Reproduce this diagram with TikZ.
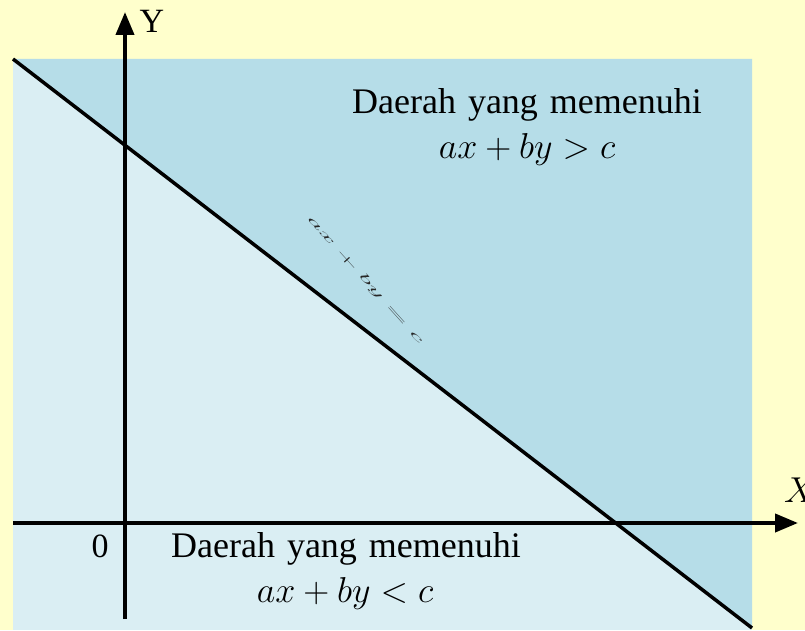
\documentclass[tikz,border=0pt]{standalone}
\usepackage{fix-cm}
\usepackage{fontspec}
\setmainfont{Liberation Serif}
\usetikzlibrary{arrows.meta}
\definecolor{bgyellow}{HTML}{FFFFCC}
\definecolor{upblue}{HTML}{B6DDE8}
\definecolor{lowblue}{HTML}{DAEEF3}
\tikzset{
  axis/.style={line width=4pt,-{Triangle[length=23pt,width=18pt]}},
  bound/.style={line width=3.5pt},
  big/.style={font=\fontsize{36}{40}\selectfont,inner sep=0pt,anchor=base},
}
\begin{document}
\begin{tikzpicture}[x=1pt,y=1pt]
\fill[bgyellow] (0,0) rectangle (805,630);
\useasboundingbox (0,0) rectangle (805,630);
% regions
\coordinate (TL) at (13,571);
\coordinate (TR) at (752,571);
\coordinate (BR) at (752,2);
\coordinate (BL) at (13,0);
\fill[lowblue] (BL) rectangle (TR);
\fill[upblue] (TL) -- (TR) -- (BR) -- cycle;
% boundary line
\draw[bound] (TL) -- (BR);
% axes
\coordinate (xs) at (13,107);
\coordinate (xe) at (798,107);
\coordinate (ys) at (125,11);
\coordinate (ye) at (125,618);
\draw[axis] (xs) -- (xe);
\draw[axis] (ys) -- (ye);
% axis labels
\node[big,font=\fontsize{34}{40}\selectfont] (ylab) at (152,597) {Y};
\node[big,anchor=base west] (xlab) at (784,128) {$X$};
\node[big,font=\fontsize{34}{40}\selectfont] (zero) at (100,73) {0};
% region texts
\node[big] (up1) at (527,516) {Daerah\hspace{0.33em}yang\hspace{0.33em}memenuhi};
\node[big] (up2) at (527,471) {$ax+by>c$};
\node[big] (lo1) at (346,73) {Daerah\hspace{0.33em}yang\hspace{0.33em}memenuhi};
\node[big] (lo2) at (345,28) {$ax+by<c$};
% line label
\node[rotate=-48,inner sep=0pt,text=black!85,font=\fontsize{13}{13}\selectfont] (eq) at (365,350) {\scalebox{2.6}[0.85]{$ax+by=c$}};
\end{tikzpicture}
\end{document}
